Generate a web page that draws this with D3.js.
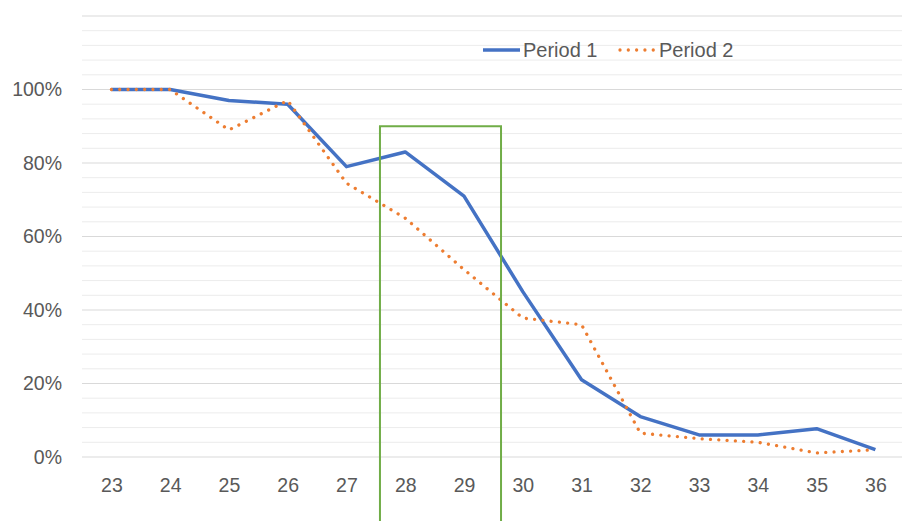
<!DOCTYPE html>
<html>
<head>
<meta charset="utf-8">
<script src="https://cdn.jsdelivr.net/npm/d3@7"></script>
<style>
  body { margin: 0; background: #fff; }
  svg { display: block; font-family: "Liberation Sans", Arial, sans-serif; }
</style>
</head>
<body>
<svg id="chart" width="902" height="521"></svg>
<script>
var categories = [23, 24, 25, 26, 27, 28, 29, 30, 31, 32, 33, 34, 35, 36];
var period1 = [100, 100, 97, 96, 79, 83, 71, 45, 21, 11, 6, 6, 7.7, 2];
var period2 = [100, 100, 89, 97, 74.5, 65, 51, 37.8, 36, 6.5, 5, 4, 1.1, 2];
var yTicks = [0, 20, 40, 60, 80, 100];
var seriesNames = ["Period 1", "Period 2"];
// highlight box (category units / percent)
var boxFrom = 27.57, boxTo = 29.63, boxTop = 90;

var svg = d3.select("#chart");
var W = 902, H = 521;
var left = 82, plotBottom = 457, plotTop = 16;
var step = 58.77;

var x = d3.scaleLinear()
  .domain([categories[0], categories[categories.length - 1]])
  .range([left + step / 2, left + step / 2 + step * (categories.length - 1)]);
var y = d3.scaleLinear().domain([0, 120]).range([plotBottom, plotTop]);

// gridlines
var minor = d3.range(0, 121, 4);
svg.append("g").selectAll("line")
  .data(minor)
  .enter().append("line")
  .attr("x1", left).attr("x2", W)
  .attr("y1", function(d) { return y(d); })
  .attr("y2", function(d) { return y(d); })
  .attr("stroke", function(d) { return d % 20 === 0 ? "#d9d9d9" : "#ececec"; })
  .attr("stroke-width", 1);

// y axis labels
var yAxis = d3.axisLeft(y).tickValues(yTicks)
  .tickFormat(function(d) { return d + "%"; })
  .tickSize(0).tickPadding(20);
var gy = svg.append("g").attr("transform", "translate(" + left + ",0)").call(yAxis);
gy.select(".domain").remove();
gy.selectAll("text").attr("fill", "#595959").style("font-size", "19.5px")
  .style("font-family", "Liberation Sans, Arial, sans-serif");

// x axis labels
var xAxis = d3.axisBottom(x).tickValues(categories).tickFormat(d3.format("d"))
  .tickSize(0).tickPadding(21);
var gx = svg.append("g").attr("transform", "translate(0," + plotBottom + ")").call(xAxis);
gx.select(".domain").remove();
gx.selectAll("text").attr("fill", "#595959").style("font-size", "19.5px")
  .style("font-family", "Liberation Sans, Arial, sans-serif");

var line = d3.line()
  .x(function(d, i) { return x(categories[i]); })
  .y(function(d) { return y(d); });

svg.append("path")
  .datum(period1)
  .attr("d", line)
  .attr("fill", "none")
  .attr("stroke", "#4472C4")
  .attr("stroke-width", 3.5)
  .attr("stroke-linejoin", "round");

svg.append("path")
  .datum(period2)
  .attr("d", line)
  .attr("fill", "none")
  .attr("stroke", "#ED7D31")
  .attr("stroke-width", 3.3)
  .attr("stroke-linecap", "round")
  .attr("stroke-dasharray", "0.01,8.3");

// green highlight box
var bx0 = x(boxFrom), bx1 = x(boxTo);
svg.append("path")
  .attr("d", "M" + bx0 + "," + (H + 5) + "V" + y(boxTop) + "H" + bx1 + "V" + (H + 5))
  .attr("fill", "none")
  .attr("stroke", "#70AD47")
  .attr("stroke-width", 2);

// legend
var legend = svg.append("g").attr("transform", "translate(0,50)");
legend.append("line")
  .attr("x1", 483).attr("x2", 520).attr("y1", 0).attr("y2", 0)
  .attr("stroke", "#4472C4").attr("stroke-width", 3.5);
legend.append("text")
  .attr("x", 523).attr("y", 7)
  .attr("fill", "#595959").style("font-size", "20px")
  .text(seriesNames[0]);
legend.append("line")
  .attr("x1", 620).attr("x2", 655).attr("y1", 0).attr("y2", 0)
  .attr("stroke", "#ED7D31").attr("stroke-width", 3.3)
  .attr("stroke-linecap", "round").attr("stroke-dasharray", "0.01,8.3");
legend.append("text")
  .attr("x", 659).attr("y", 7)
  .attr("fill", "#595959").style("font-size", "20px")
  .text(seriesNames[1]);
</script>
</body>
</html>
